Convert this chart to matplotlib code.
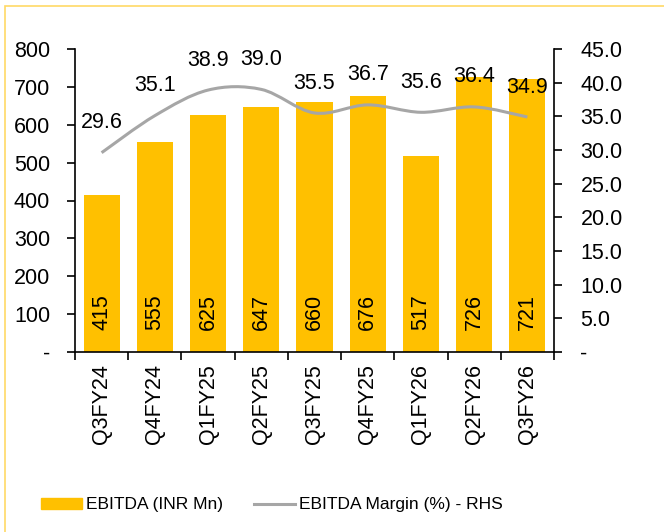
import matplotlib
matplotlib.use("Agg")
import matplotlib.pyplot as plt
import numpy as np
from matplotlib.path import Path
from matplotlib.patches import PathPatch, Rectangle
from matplotlib.lines import Line2D
from matplotlib.ticker import FuncFormatter, FixedLocator
from matplotlib import font_manager

plt.rcParams['font.family'] = ['Liberation Sans', 'DejaVu Sans']

quarters = ["Q3FY24", "Q4FY24", "Q1FY25", "Q2FY25", "Q3FY25", "Q4FY25", "Q1FY26", "Q2FY26", "Q3FY26"]
ebitda = [415, 555, 625, 647, 660, 676, 517, 726, 721]
margin = [29.6, 35.1, 38.9, 39.0, 35.5, 36.7, 35.6, 36.4, 34.9]

bar_color = "#FFC000"
line_color = "#A6A6A6"
FS = 15.5

names = {f.name for f in font_manager.fontManager.ttflist}
if "Liberation Sans Narrow" in names:
    legend_font = {"family": ["Liberation Sans Narrow", "DejaVu Sans"], "size": 15}
    lscale = 15
else:
    legend_font = {"family": ["Liberation Sans", "DejaVu Sans"], "size": 12.5}
    lscale = 12.5
lpx = lscale * 100 / 72

fig = plt.figure(figsize=(6.64, 5.32), dpi=100)
# yellow frame
fig.patches.append(Rectangle((5/664, -0.05), 1.0, 1 - 6/532 + 0.05,
                             transform=fig.transFigure, fill=False,
                             edgecolor="#FFD966", linewidth=1.2))

ax = fig.add_axes([75/664, 1 - 352/532, (554 - 75)/664, (352 - 49)/532])
ax2 = ax.twinx()

x = np.arange(len(quarters))
bars = ax.bar(x, ebitda, width=0.68, color=bar_color, zorder=2)
ax.set_xlim(-0.5, len(quarters) - 0.5)
ax.set_ylim(0, 800)
ax.set_yticks(np.arange(0, 801, 100))
ax.yaxis.set_major_formatter(FuncFormatter(lambda v, p: "-" if v == 0 else f"{int(v)}"))
ax.set_xticks(x)
ax.set_xticklabels(quarters, rotation=90, fontsize=FS)
ax.tick_params(axis='x', length=0, pad=9)
ax.xaxis.set_minor_locator(FixedLocator(np.arange(-0.5, len(quarters), 1.0)))
ax.tick_params(axis='x', which='minor', length=6, width=1.2, direction='out')
ax.tick_params(axis='y', labelsize=FS, length=6, width=1.2, direction='out', pad=12)

for b, v in zip(bars, ebitda):
    ax.text(b.get_x() + b.get_width() / 2, 106, f"{v}", rotation=90,
            ha='center', va='center', fontsize=FS, color='black', zorder=3)

# smoothed line (Catmull-Rom -> cubic Bezier)
pts = np.column_stack([x, margin]).astype(float)
verts = [tuple(pts[0])]
codes = [Path.MOVETO]
n = len(pts)
for i in range(n - 1):
    p0 = pts[i - 1] if i > 0 else pts[i]
    p1 = pts[i]
    p2 = pts[i + 1]
    p3 = pts[i + 2] if i + 2 < n else pts[i + 1]
    c1 = p1 + (p2 - p0) / 6
    c2 = p2 - (p3 - p1) / 6
    verts += [tuple(c1), tuple(c2), tuple(p2)]
    codes += [Path.CURVE4] * 3
ax2.add_patch(PathPatch(Path(verts, codes), fill=False, edgecolor=line_color,
                        linewidth=2.2, zorder=4))
ax2.set_ylim(0, 45)
ax2.set_yticks(np.arange(0, 45.1, 5))
ax2.yaxis.set_major_formatter(FuncFormatter(lambda v, p: "-" if v == 0 else f"{v:.1f}"))
ax2.tick_params(axis='y', labelsize=FS, length=6, width=1.2, direction='out', pad=13)

for xi, m in zip(x, margin):
    ax2.annotate(f"{m:.1f}", (xi, m), xytext=(0, 14), textcoords='offset points',
                 ha='center', va='bottom', fontsize=FS, zorder=5)

for a in (ax, ax2):
    a.spines['top'].set_visible(False)
    for s in ('left', 'right', 'bottom'):
        a.spines[s].set_linewidth(1.2)
ax.spines['right'].set_visible(False)
ax2.spines['left'].set_visible(False)
ax2.spines['bottom'].set_visible(False)

handles = [Rectangle((0, 0), 1, 1, color=bar_color),
           Line2D([0], [0], color=line_color, linewidth=2.2)]
fig.legend(handles, ["EBITDA (INR Mn)", "EBITDA Margin (%) - RHS"],
           loc='center left', bbox_to_anchor=(41/664, 1 - 505/532), ncol=2,
           frameon=False, prop=legend_font, handlelength=41/lpx, handleheight=11/lpx,
           columnspacing=31/lpx, handletextpad=4/lpx, borderpad=0, borderaxespad=0)

fig.savefig("out.png", dpi=100)
